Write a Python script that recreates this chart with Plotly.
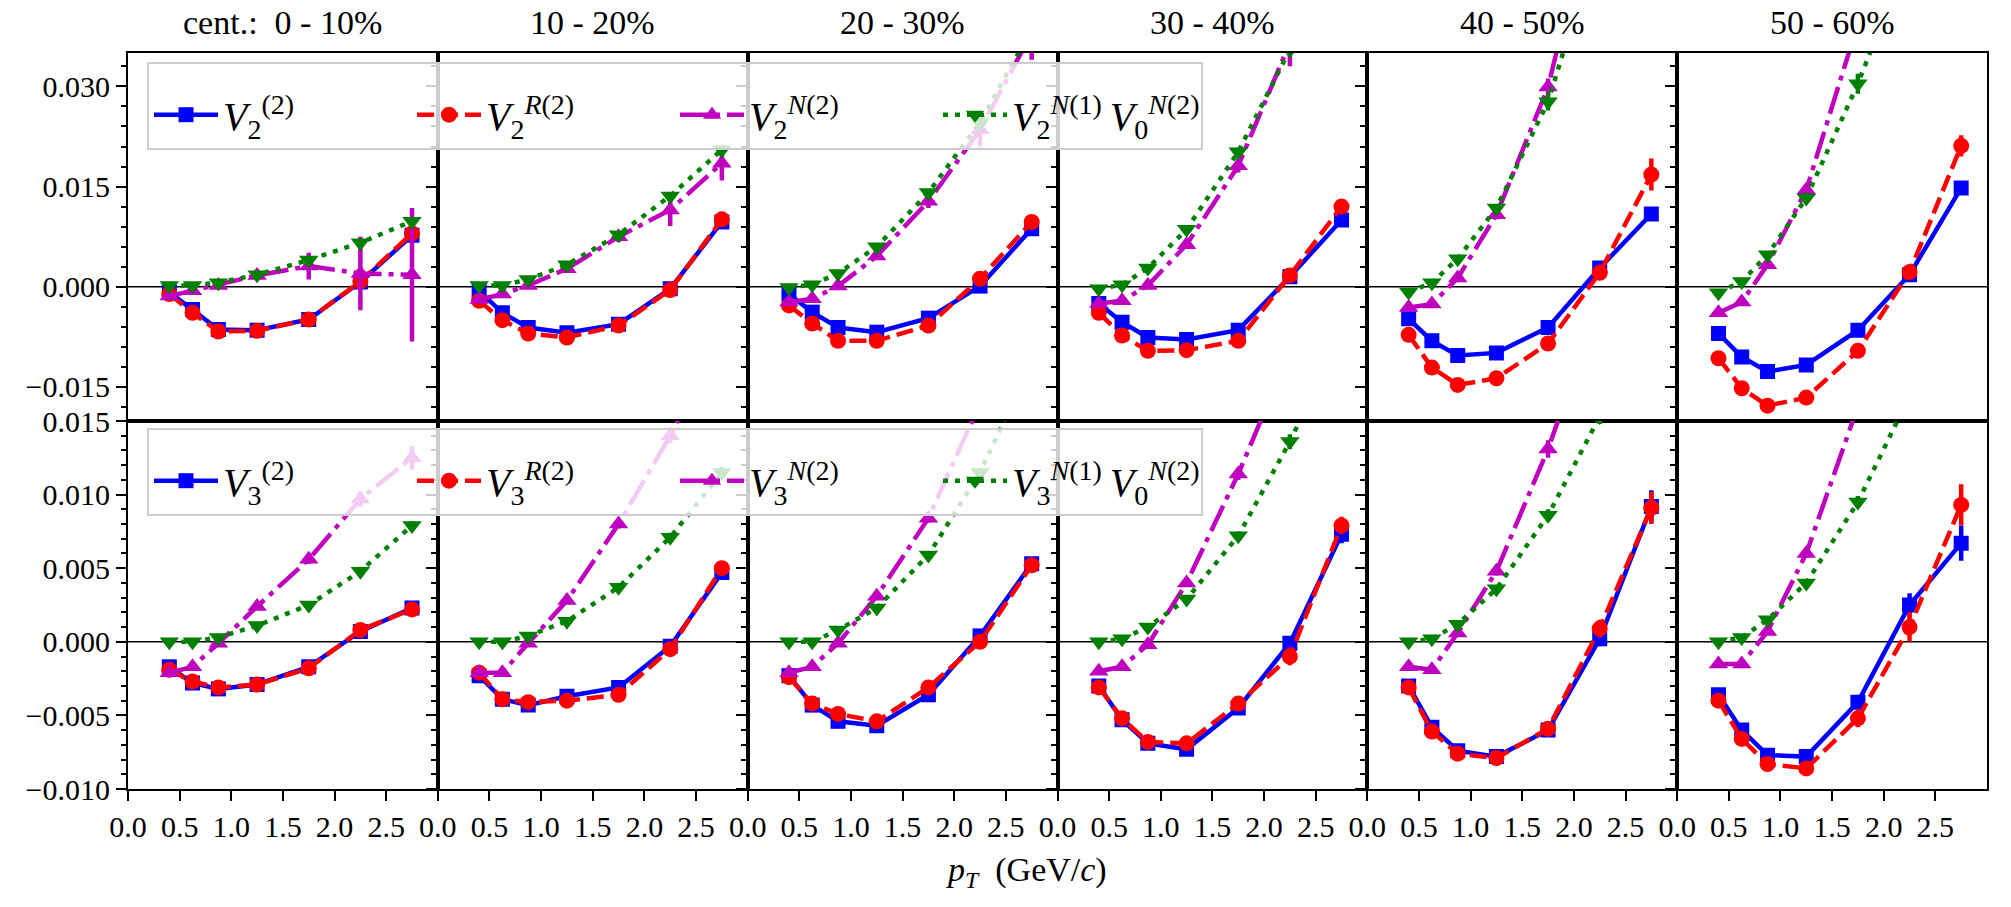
import plotly.graph_objects as go
from plotly.subplots import make_subplots

# ---------------- data ----------------
PT = [0.4, 0.625, 0.875, 1.25, 1.75, 2.25, 2.75]
CENTRALITY = ["cent.:  0 - 10%", "10 - 20%", "20 - 30%", "30 - 40%", "40 - 50%", "50 - 60%"]
XTICK_VALS = [0.0, 0.5, 1.0, 1.5, 2.0, 2.5]
XTICK_TEXT = ["0.0", "0.5", "1.0", "1.5", "2.0", "2.5"]
YTICKS_N2 = [-0.015, 0.0, 0.015, 0.030]
YTICKS_N3 = [-0.010, -0.005, 0.0, 0.005, 0.010, 0.015]

# ---- n = 2 (top row) ----
V2_FULL = [
    [-0.0008, -0.0034, -0.0064, -0.0065, -0.0049, 0.0007, 0.0077],
    [-0.0006, -0.0039, -0.0061, -0.0069, -0.0056, -0.0003, 0.0097],
    [-0.0011, -0.0038, -0.0061, -0.0068, -0.0047, 0.0001, 0.0087],
    [-0.0025, -0.0053, -0.0076, -0.0079, -0.0065, 0.0015, 0.0100],
    [-0.0048, -0.0081, -0.0103, -0.0099, -0.0061, 0.0028, 0.0109],
    [-0.0070, -0.0105, -0.0127, -0.0117, -0.0065, 0.0018, 0.0148],
]
V2_FULL_ERR = [
    [0.0003, 0.0003, 0.0003, 0.0003, 0.0003, 0.0004, 0.0006],
    [0.0003, 0.0003, 0.0003, 0.0003, 0.0003, 0.0004, 0.0006],
    [0.0003, 0.0003, 0.0003, 0.0003, 0.0003, 0.0004, 0.0006],
    [0.0003, 0.0003, 0.0003, 0.0003, 0.0003, 0.0005, 0.0006],
    [0.0004, 0.0004, 0.0004, 0.0004, 0.0004, 0.0005, 0.0007],
    [0.0004, 0.0004, 0.0004, 0.0004, 0.0004, 0.0006, 0.0008],
]
V2_R = [
    [-0.0011, -0.0039, -0.0067, -0.0066, -0.0049, 0.0008, 0.0080],
    [-0.0021, -0.0050, -0.0070, -0.0076, -0.0058, -0.0005, 0.0101],
    [-0.0028, -0.0055, -0.0081, -0.0081, -0.0058, 0.0012, 0.0097],
    [-0.0039, -0.0073, -0.0096, -0.0095, -0.0081, 0.0017, 0.0120],
    [-0.0072, -0.0121, -0.0147, -0.0137, -0.0085, 0.0021, 0.0168],
    [-0.0107, -0.0152, -0.0178, -0.0166, -0.0096, 0.0022, 0.0211],
]
V2_R_ERR = [
    [0.0003, 0.0003, 0.0003, 0.0003, 0.0004, 0.0005, 0.0008],
    [0.0003, 0.0003, 0.0003, 0.0003, 0.0004, 0.0005, 0.0006],
    [0.0003, 0.0003, 0.0003, 0.0003, 0.0004, 0.0005, 0.0008],
    [0.0003, 0.0003, 0.0003, 0.0004, 0.0004, 0.0005, 0.0008],
    [0.0004, 0.0006, 0.0008, 0.0008, 0.0005, 0.0006, 0.0024],
    [0.0004, 0.0005, 0.0005, 0.0005, 0.0005, 0.0006, 0.0016],
]
V2_N = [
    [-0.0014, -0.0006, 0.0002, 0.0017, 0.0031, 0.0020, 0.0018],
    [-0.0019, -0.0011, 0.0002, 0.0027, 0.0075, 0.0115, 0.0185],
    [-0.0023, -0.0018, 0.0001, 0.0046, 0.0128, 0.0235, 0.0380],
    [-0.0025, -0.0021, 0.0002, 0.0063, 0.0181, 0.0360, 0.0550],
    [-0.0031, -0.0026, 0.0013, 0.0108, 0.0299, 0.0620, 0.0850],
    [-0.0039, -0.0023, 0.0033, 0.0145, 0.0394, 0.0650, 0.0900],
]
V2_N_ERR = [
    [0.0004, 0.0004, 0.0004, 0.0008, 0.0020, 0.0055, 0.0100],
    [0.0004, 0.0004, 0.0004, 0.0006, 0.0008, 0.0024, 0.0026],
    [0.0004, 0.0004, 0.0004, 0.0006, 0.0010, 0.0025, 0.0040],
    [0.0004, 0.0004, 0.0004, 0.0006, 0.0010, 0.0030, 0.0050],
    [0.0004, 0.0004, 0.0005, 0.0007, 0.0013, 0.0030, 0.0050],
    [0.0004, 0.0004, 0.0005, 0.0008, 0.0015, 0.0030, 0.0050],
]
V2_NV0 = [
    [0.0002, 0.0002, 0.0006, 0.0018, 0.0040, 0.0066, 0.0098],
    [0.0002, 0.0002, 0.0011, 0.0033, 0.0078, 0.0136, 0.0205],
    [-0.0001, 0.0003, 0.0020, 0.0060, 0.0141, 0.0246, 0.0386],
    [-0.0003, 0.0003, 0.0028, 0.0086, 0.0202, 0.0355, 0.0550],
    [-0.0008, 0.0006, 0.0042, 0.0118, 0.0277, 0.0520, 0.0780],
    [-0.0009, 0.0008, 0.0048, 0.0133, 0.0304, 0.0490, 0.0700],
]
V2_NV0_ERR = [
    [0.0003, 0.0003, 0.0003, 0.0003, 0.0004, 0.0005, 0.0006],
    [0.0003, 0.0003, 0.0003, 0.0003, 0.0004, 0.0005, 0.0006],
    [0.0003, 0.0003, 0.0003, 0.0003, 0.0005, 0.0008, 0.0010],
    [0.0003, 0.0003, 0.0003, 0.0004, 0.0006, 0.0010, 0.0015],
    [0.0003, 0.0003, 0.0004, 0.0005, 0.0013, 0.0020, 0.0030],
    [0.0003, 0.0003, 0.0004, 0.0005, 0.0015, 0.0020, 0.0030],
]

# ---- n = 3 (bottom row) ----
V3_FULL = [
    [-0.0017, -0.0028, -0.0032, -0.0029, -0.0017, 0.0007, 0.0023],
    [-0.0023, -0.0039, -0.0043, -0.0037, -0.0031, -0.0003, 0.0047],
    [-0.0023, -0.0043, -0.0054, -0.0057, -0.0036, 0.0004, 0.0053],
    [-0.0030, -0.0053, -0.0069, -0.0073, -0.0045, -0.0001, 0.0073],
    [-0.0030, -0.0058, -0.0074, -0.0078, -0.0060, 0.0002, 0.0092],
    [-0.0036, -0.0060, -0.0077, -0.0078, -0.0041, 0.0025, 0.0067],
]
V3_FULL_ERR = [
    [0.0002, 0.0002, 0.0002, 0.0002, 0.0004, 0.0003, 0.0004],
    [0.0002, 0.0002, 0.0002, 0.0002, 0.0003, 0.0003, 0.0004],
    [0.0002, 0.0002, 0.0002, 0.0002, 0.0003, 0.0003, 0.0004],
    [0.0002, 0.0002, 0.0002, 0.0002, 0.0003, 0.0004, 0.0006],
    [0.0002, 0.0002, 0.0002, 0.0002, 0.0003, 0.0005, 0.0011],
    [0.0002, 0.0003, 0.0003, 0.0004, 0.0004, 0.0008, 0.0012],
]
V3_R = [
    [-0.0019, -0.0027, -0.0031, -0.0029, -0.0018, 0.0008, 0.0022],
    [-0.0021, -0.0039, -0.0041, -0.0040, -0.0036, -0.0005, 0.0050],
    [-0.0024, -0.0042, -0.0049, -0.0054, -0.0031, 0.0000, 0.0052],
    [-0.0031, -0.0052, -0.0068, -0.0069, -0.0042, -0.0010, 0.0079],
    [-0.0031, -0.0061, -0.0076, -0.0079, -0.0059, 0.0009, 0.0091],
    [-0.0040, -0.0066, -0.0083, -0.0086, -0.0052, 0.0010, 0.0093],
]
V3_R_ERR = [
    [0.0002, 0.0002, 0.0002, 0.0002, 0.0004, 0.0003, 0.0004],
    [0.0002, 0.0002, 0.0002, 0.0002, 0.0003, 0.0003, 0.0004],
    [0.0002, 0.0002, 0.0002, 0.0002, 0.0003, 0.0004, 0.0004],
    [0.0002, 0.0002, 0.0002, 0.0002, 0.0003, 0.0006, 0.0006],
    [0.0002, 0.0002, 0.0002, 0.0002, 0.0003, 0.0006, 0.0011],
    [0.0002, 0.0003, 0.0004, 0.0005, 0.0006, 0.0010, 0.0014],
]
V3_N = [
    [-0.0021, -0.0017, -0.0001, 0.0024, 0.0056, 0.0097, 0.0125],
    [-0.0021, -0.0021, -0.0001, 0.0028, 0.0080, 0.0140, 0.0210],
    [-0.0021, -0.0017, -0.0001, 0.0031, 0.0084, 0.0165, 0.0240],
    [-0.0020, -0.0017, -0.0002, 0.0040, 0.0114, 0.0198, 0.0280],
    [-0.0017, -0.0019, 0.0006, 0.0048, 0.0131, 0.0230, 0.0330],
    [-0.0015, -0.0015, 0.0007, 0.0060, 0.0160, 0.0260, 0.0360],
]
V3_N_ERR = [
    [0.0002, 0.0002, 0.0002, 0.0002, 0.0003, 0.0005, 0.0008],
    [0.0002, 0.0002, 0.0002, 0.0002, 0.0003, 0.0005, 0.0008],
    [0.0002, 0.0002, 0.0002, 0.0002, 0.0003, 0.0005, 0.0008],
    [0.0002, 0.0002, 0.0002, 0.0002, 0.0004, 0.0006, 0.0008],
    [0.0002, 0.0002, 0.0002, 0.0003, 0.0006, 0.0008, 0.0010],
    [0.0002, 0.0002, 0.0002, 0.0003, 0.0006, 0.0008, 0.0010],
]
V3_NV0 = [
    [0.0000, 0.0000, 0.0003, 0.0011, 0.0025, 0.0048, 0.0079],
    [0.0000, 0.0000, 0.0004, 0.0014, 0.0037, 0.0071, 0.0115],
    [0.0000, 0.0000, 0.0008, 0.0023, 0.0059, 0.0115, 0.0190],
    [0.0000, 0.0002, 0.0010, 0.0029, 0.0072, 0.0136, 0.0210],
    [0.0000, 0.0002, 0.0012, 0.0036, 0.0086, 0.0153, 0.0250],
    [0.0000, 0.0003, 0.0015, 0.0040, 0.0095, 0.0167, 0.0250],
]
V3_NV0_ERR = [
    [0.0002, 0.0002, 0.0002, 0.0002, 0.0002, 0.0003, 0.0003],
    [0.0002, 0.0002, 0.0002, 0.0002, 0.0002, 0.0003, 0.0004],
    [0.0002, 0.0002, 0.0002, 0.0002, 0.0002, 0.0003, 0.0004],
    [0.0002, 0.0002, 0.0002, 0.0002, 0.0003, 0.0005, 0.0006],
    [0.0002, 0.0002, 0.0002, 0.0002, 0.0004, 0.0005, 0.0006],
    [0.0002, 0.0002, 0.0002, 0.0002, 0.0004, 0.0005, 0.0006],
]

# ---------------- styling ----------------
SERIF = "Liberation Serif"
W, H = 2011, 907
L, R, T, B = 128, 24, 53, 118

STYLES = [
    dict(color="#0000ff", dash="solid", symbol="square", size=15),
    dict(color="#ff0000", dash="17px,7px", symbol="circle", size=16),
    dict(color="#bf00bf", dash="28px,7px,5px,7px", symbol="triangle-up", size=17),
    dict(color="#008000", dash="5px,7px", symbol="triangle-down", size=17),
]
LINE_W = 4.5

ROWS = [
    dict(series=[(V2_FULL, V2_FULL_ERR), (V2_R, V2_R_ERR), (V2_N, V2_N_ERR), (V2_NV0, V2_NV0_ERR)],
         names=["<i>V</i><sub>2</sub><sup>(2)</sup>",
                "<i>V</i><sub>2</sub><sup><i>R</i>(2)</sup>",
                "<i>V</i><sub>2</sub><sup><i>N</i>(2)</sup>",
                "<i>V</i><sub>2</sub><sup><i>N</i>(1)</sup>&#8201;<i>V</i><sub>0</sub><sup><i>N</i>(2)</sup>"],
         yrange=[-0.0201, 0.0350], yticks=YTICKS_N2, minor=0.003, legend="legend"),
    dict(series=[(V3_FULL, V3_FULL_ERR), (V3_R, V3_R_ERR), (V3_N, V3_N_ERR), (V3_NV0, V3_NV0_ERR)],
         names=["<i>V</i><sub>3</sub><sup>(2)</sup>",
                "<i>V</i><sub>3</sub><sup><i>R</i>(2)</sup>",
                "<i>V</i><sub>3</sub><sup><i>N</i>(2)</sup>",
                "<i>V</i><sub>3</sub><sup><i>N</i>(1)</sup>&#8201;<i>V</i><sub>0</sub><sup><i>N</i>(2)</sup>"],
         yrange=[-0.010, 0.015], yticks=YTICKS_N3, minor=0.001, legend="legend2"),
]

fig = make_subplots(rows=2, cols=6, horizontal_spacing=0, vertical_spacing=0)

for r, rowdef in enumerate(ROWS, start=1):
    for c in range(1, 7):
        for k, ((vals, errs), st) in enumerate(zip(rowdef["series"], STYLES)):
            fig.add_trace(go.Scatter(
                x=PT, y=vals[c - 1],
                mode="lines+markers",
                name=rowdef["names"][k],
                legend=rowdef["legend"],
                showlegend=(c == 1),
                line=dict(color=st["color"], width=LINE_W, dash=st["dash"]),
                marker=dict(symbol=st["symbol"], size=st["size"], color=st["color"], line=dict(width=0)),
                error_y=dict(type="data", array=errs[c - 1], color=st["color"], thickness=LINE_W, width=0),
            ), row=r, col=c)
        fig.add_hline(y=0, line=dict(color="black", width=1.5), layer="below", row=r, col=c)

        fig.update_xaxes(
            range=[0, 3], showgrid=False, zeroline=False,
            showline=True, mirror=True, linecolor="black", linewidth=2,
            tickvals=XTICK_VALS, ticktext=XTICK_TEXT,
            ticks="outside" if r == 2 else "", ticklen=10, tickwidth=2, tickcolor="black",
            showticklabels=(r == 2),
            tickfont=dict(family=SERIF, size=30, color="black"),
            row=r, col=c)
        fig.update_yaxes(
            range=rowdef["yrange"], showgrid=False, zeroline=False,
            showline=True, mirror=True, linecolor="black", linewidth=2,
            tickvals=rowdef["yticks"], tickformat=".3f",
            ticks="outside", ticklen=10, tickwidth=2, tickcolor="black",
            minor=dict(ticks="outside", ticklen=5, tickwidth=1.5, tickcolor="black",
                       dtick=rowdef["minor"], tick0=0, showgrid=False),
            showticklabels=(c == 1),
            tickfont=dict(family=SERIF, size=30, color="black"),
            row=r, col=c)

annotations = []
plot_w = W - L - R
for c, label in enumerate(CENTRALITY):
    cx = (c + 0.5) / 6
    annotations.append(dict(text=label, x=cx, y=1.0, xref="paper", yref="paper",
                            xanchor="center", yanchor="bottom", yshift=10, showarrow=False,
                            font=dict(family=SERIF, size=34, color="black")))
annotations.append(dict(text="<i>p</i><sub><i>T</i></sub>  (GeV/<i>c</i>)",
                        x=(1026 - L) / plot_w, y=-0.113, xref="paper", yref="paper",
                        xanchor="center", yanchor="middle", showarrow=False,
                        font=dict(family=SERIF, size=34, color="black")))

legend_common = dict(orientation="h", xanchor="left", yanchor="top",
                     bgcolor="rgba(255,255,255,0.8)", bordercolor="#cccccc", borderwidth=2,
                     font=dict(family=SERIF, size=40, color="black"),
                     title=dict(text="&nbsp;", side="top", font=dict(size=14)),
                     itemwidth=64, entrywidth=184, traceorder="normal", tracegroupgap=0)
plot_h = H - T - B
fig.update_layout(
    width=W, height=H,
    margin=dict(l=L, r=R, t=T, b=B, pad=0),
    paper_bgcolor="white", plot_bgcolor="white",
    font=dict(family=SERIF, color="black"),
    annotations=annotations,
    legend=dict(x=(147 - L) / plot_w, y=(H - B - 62) / plot_h, **legend_common),
    legend2=dict(x=(147 - L) / plot_w, y=(H - B - 428) / plot_h, **legend_common),
)

fig.write_html("out.html", config={"displayModeBar": False})
